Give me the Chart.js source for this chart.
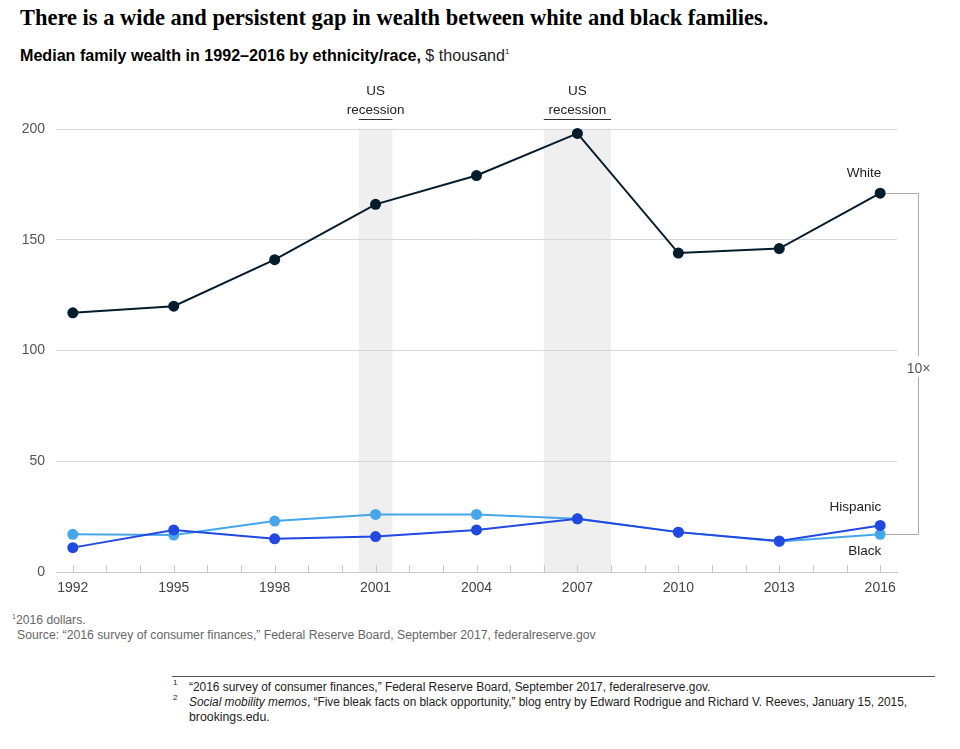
<!DOCTYPE html>
<html>
<head>
<meta charset="utf-8">
<script src="https://cdn.jsdelivr.net/npm/chart.js@4/dist/chart.umd.min.js"></script>
<style>
  html, body { margin: 0; padding: 0; background: #fff; }
  body { width: 960px; height: 749px; position: relative; overflow: hidden; font-family: "Liberation Sans", Arial, sans-serif; }
  .fit { position: absolute; white-space: nowrap; transform-origin: 0 0; }
  #title { left: 20px; top: 5px; font-family: "Liberation Serif", serif; font-weight: bold; font-size: 23px; color: #000; }
  #subtitle { left: 20px; top: 47px; font-size: 16px; color: #000; }
  #subtitle b { font-weight: bold; }
  #subtitle span { color: #222; }
  #subtitle sup { font-size: 8px; vertical-align: 7px; }
  #fn1 { left: 12px; top: 613px; font-size: 12px; color: #666; }
  #fn1 sup { font-size: 7px; vertical-align: 5px; }
  #src { left: 17px; top: 628px; font-size: 12px; color: #666; }
  #rule { position: absolute; left: 172px; top: 676px; width: 763px; height: 1px; background: #555; }
  .note { position: absolute; font-size: 12px; color: #222; white-space: nowrap; transform-origin: 0 0; }
  .num { position: absolute; font-size: 8px; color: #222; }
  canvas#c { position: absolute; left: 0; top: 70px; }
</style>
</head>
<body>
<div id="title" class="fit" data-w="748">There is a wide and persistent gap in wealth between white and black families.</div>
<div id="subtitle" class="fit" data-w="490"><b>Median family wealth in 1992–2016 by ethnicity/race,</b> <span>$ thousand<sup>1</sup></span></div>
<div id="fn1" class="fit" data-w="74"><sup>1</sup>2016 dollars.</div>
<div id="src" class="fit" data-w="579">Source: “2016 survey of consumer finances,” Federal Reserve Board, September 2017, federalreserve.gov</div>
<div id="rule"></div>
<div class="num" style="left:173px;top:678px;">1</div>
<div class="note fit" style="left:189px;top:680px;" data-w="521">“2016 survey of consumer finances,” Federal Reserve Board, September 2017, federalreserve.gov.</div>
<div class="num" style="left:173px;top:693px;">2</div>
<div class="note fit" style="left:189px;top:695px;" data-w="718"><i>Social mobility memos</i>, “Five bleak facts on black opportunity,” blog entry by Edward Rodrigue and Richard V. Reeves, January 15, 2015,</div>
<div class="note fit" style="left:189px;top:710px;" data-w="81">brookings.edu.</div>
<canvas id="c" width="960" height="560"></canvas>
<script>
// ---- data ----
const years = [1992, 1995, 1998, 2001, 2004, 2007, 2010, 2013, 2016];
const white = [117, 120, 141, 166, 179, 198, 144, 146, 171];
const hispanic = [11, 19, 15, 16, 19, 24, 18, 14, 21];
const black = [17, 16.7, 23, 26, 26, 24, 18, 13.8, 17];
const yTicks = [0, 50, 100, 150, 200];
const recessionStart = [2000.5, 2006];
const recessionEnd = [2001.5, 2008];
const recessionText = ['US', 'recession'];
const seriesNames = ['White', 'Hispanic', 'Black'];
const gapLabel = '10×';
const firstYear = 1992, lastYear = 2016;

// fit text widths
document.querySelectorAll('.fit').forEach(el => {
  const target = parseFloat(el.dataset.w);
  const w = el.scrollWidth;
  if (target && w) el.style.transform = 'scaleX(' + (target / w) + ')';
});

const pts = arr => years.map((y, i) => ({ x: y, y: arr[i] }));
const FONT = '"Liberation Sans", Arial, sans-serif';

const decorPlugin = {
  id: 'decor',
  beforeDraw(chart) {
    const { ctx, chartArea, scales: { x } } = chart;
    ctx.save();
    ctx.fillStyle = '#efefef';
    for (let i = 0; i < recessionStart.length; i++) {
      const a = x.getPixelForValue(recessionStart[i]);
      const b = x.getPixelForValue(recessionEnd[i]);
      ctx.fillRect(a, chartArea.top, b - a, chartArea.bottom - chartArea.top);
    }
    ctx.restore();
  },
  afterDraw(chart) {
    const { ctx, chartArea, scales: { x, y } } = chart;
    ctx.save();
    // minor ticks
    ctx.strokeStyle = '#c8c8c8';
    ctx.lineWidth = 1;
    for (let yr = firstYear; yr <= lastYear; yr++) {
      const px = Math.round(x.getPixelForValue(yr)) + 0.5;
      ctx.beginPath();
      ctx.moveTo(px, chartArea.bottom - 7);
      ctx.lineTo(px, chartArea.bottom);
      ctx.stroke();
    }
    // recession labels
    ctx.fillStyle = '#222';
    ctx.font = '13.5px ' + FONT;
    ctx.textAlign = 'center';
    ctx.textBaseline = 'middle';
    for (let i = 0; i < recessionStart.length; i++) {
      const a = x.getPixelForValue(recessionStart[i]);
      const b = x.getPixelForValue(recessionEnd[i]);
      const c = (a + b) / 2;
      ctx.fillText(recessionText[0], c, chartArea.top - 38);
      ctx.fillText(recessionText[1], c, chartArea.top - 19);
      ctx.strokeStyle = '#333';
      ctx.beginPath();
      ctx.moveTo(a, chartArea.top - 9.5);
      ctx.lineTo(b, chartArea.top - 9.5);
      ctx.stroke();
    }
    // series labels
    const last = years.length - 1;
    const xl = x.getPixelForValue(years[last]);
    const yw = y.getPixelForValue(white[last]);
    const yh = y.getPixelForValue(hispanic[last]);
    const yb = y.getPixelForValue(black[last]);
    ctx.textAlign = 'right';
    ctx.fillStyle = '#222';
    ctx.fillText(seriesNames[0], xl + 1, yw - 20);
    ctx.fillText(seriesNames[1], xl + 1, yh - 18);
    ctx.fillText(seriesNames[2], xl + 1, yb + 17);
    // bracket
    const bx = chartArea.right + 21.5;
    const mid = (yw + yb) / 2 + 5;
    ctx.strokeStyle = '#aaa';
    ctx.beginPath();
    ctx.moveTo(xl + 6, Math.round(yw) + 0.5); ctx.lineTo(bx, Math.round(yw) + 0.5);
    ctx.moveTo(xl + 6, Math.round(yb) + 0.5); ctx.lineTo(bx, Math.round(yb) + 0.5);
    ctx.moveTo(bx, yw); ctx.lineTo(bx, mid - 13);
    ctx.moveTo(bx, mid + 8); ctx.lineTo(bx, yb);
    ctx.stroke();
    ctx.textAlign = 'center';
    ctx.fillStyle = '#555';
    ctx.font = '14px ' + FONT;
    ctx.fillText(gapLabel, bx, mid);
    ctx.restore();
  }
};

new Chart(document.getElementById('c'), {
  type: 'line',
  data: {
    datasets: [
      { label: seriesNames[0], data: pts(white), borderColor: '#051c2c', backgroundColor: '#051c2c', borderWidth: 2, pointRadius: 5.5, pointBorderWidth: 0, clip: false, order: 0 },
      { label: seriesNames[1], data: pts(hispanic), borderColor: '#2148e0', backgroundColor: '#2148e0', borderWidth: 2, pointRadius: 5.5, pointBorderWidth: 0, clip: false, order: 1 },
      { label: seriesNames[2], data: pts(black), borderColor: '#45a6ec', backgroundColor: '#45a6ec', borderWidth: 2, pointRadius: 5.5, pointBorderWidth: 0, clip: false, order: 2 }
    ]
  },
  options: {
    responsive: false,
    animation: false,
    events: [],
    layout: { padding: { top: 59, left: 0, right: 63, bottom: 28 } },
    plugins: { legend: { display: false }, tooltip: { enabled: false }, title: { display: false } },
    scales: {
      x: {
        type: 'linear', min: 1991.5, max: 2016.5,
        afterBuildTicks: s => { s.ticks = years.map(v => ({ value: v })); },
        afterFit: s => { s.height = 30; },
        grid: { display: false, drawTicks: false },
        border: { display: true, color: '#c8c8c8', width: 1 },
        ticks: { padding: 8, color: '#444', font: { family: FONT, size: 14 }, maxRotation: 0, callback: v => String(v) }
      },
      y: {
        min: 0, max: 200,
        afterBuildTicks: s => { s.ticks = yTicks.map(v => ({ value: v })); },
        afterFit: s => { s.width = 56; },
        grid: { color: '#d6d6d6', drawTicks: false },
        border: { display: false },
        ticks: { padding: 11, color: '#555', font: { family: FONT, size: 14 } }
      }
    }
  },
  plugins: [decorPlugin]
});
</script>
</body>
</html>
